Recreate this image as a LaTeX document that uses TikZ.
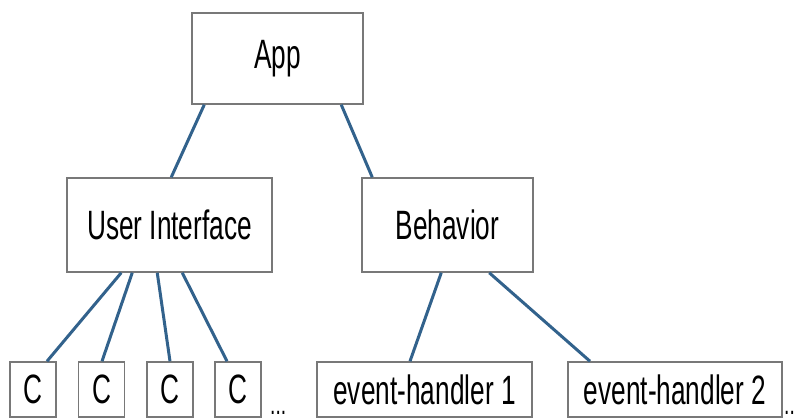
\documentclass[tikz,border=0pt]{standalone}
\usepackage{fontspec}
\setmainfont[FakeStretch=0.64]{Liberation Sans}
\usepackage{tikz}
\definecolor{linkblue}{RGB}{50,98,140}
\definecolor{boxgray}{RGB}{120,120,120}

\begin{document}
\begin{tikzpicture}[x=1pt,y=-1pt,font=\fontsize{41}{48}\selectfont,
 b/.style={draw=boxgray,line width=1.5pt,inner sep=0pt,align=center},
 a/.style={draw=linkblue,line width=3pt}]
\useasboundingbox (0,0) rectangle (799,419);
% top level and the two parts
\node[b,minimum width=171pt,minimum height=91pt] (app) at (277.5,58.5) {App};
\node[b,minimum width=205pt,minimum height=94pt] (ui) at (169.5,225) {User Interface};
\node[b,minimum width=171pt,minimum height=94pt] (bh) at (447.5,225) {Behavior};
% components and handlers
\node[b,minimum width=46pt,minimum height=55pt] (c1) at (33,389.5) {C};
\node[b,minimum width=46pt,minimum height=55pt] (c2) at (101.5,389.5) {C};
\node[b,minimum width=46pt,minimum height=55pt] (c3) at (170,389.5) {C};
\node[b,minimum width=46pt,minimum height=55pt] (c4) at (238,389.5) {C};
\node[anchor=base west,inner sep=0pt,font=\fontsize{30}{30}\selectfont] (cmore) at (270,414) {...};
\node[b,minimum width=215pt,minimum height=55pt] (ev1) at (424.5,389.5) {event-handler 1};
\node[b,minimum width=214pt,minimum height=55pt] (ev2) at (675,389.5) {event-handler 2};
\node[anchor=base west,inner sep=0pt,font=\fontsize{30}{30}\selectfont] (evmore) at (784,414) {..};
\draw[a] ([xshift=13pt]app.south west)--([xshift=105pt]ui.north west);
\draw[a] ([xshift=150pt]app.south west)--([xshift=11pt]bh.north west);
\draw[a] ([xshift=55pt]ui.south west)--([xshift=14pt]c1.north);
\draw[a] ([xshift=66pt]ui.south west)--([xshift=0.5pt]c2.north);
\draw[a] ([xshift=91pt]ui.south west)--(c3.north);
\draw[a] ([xshift=116pt]ui.south west)--([xshift=-11pt]c4.north);
\draw[a] ([xshift=80pt]bh.south west)--([xshift=-14.5pt]ev1.north);
\draw[a] ([xshift=128pt]bh.south west)--([xshift=-85pt]ev2.north);
\end{tikzpicture}
\end{document}
